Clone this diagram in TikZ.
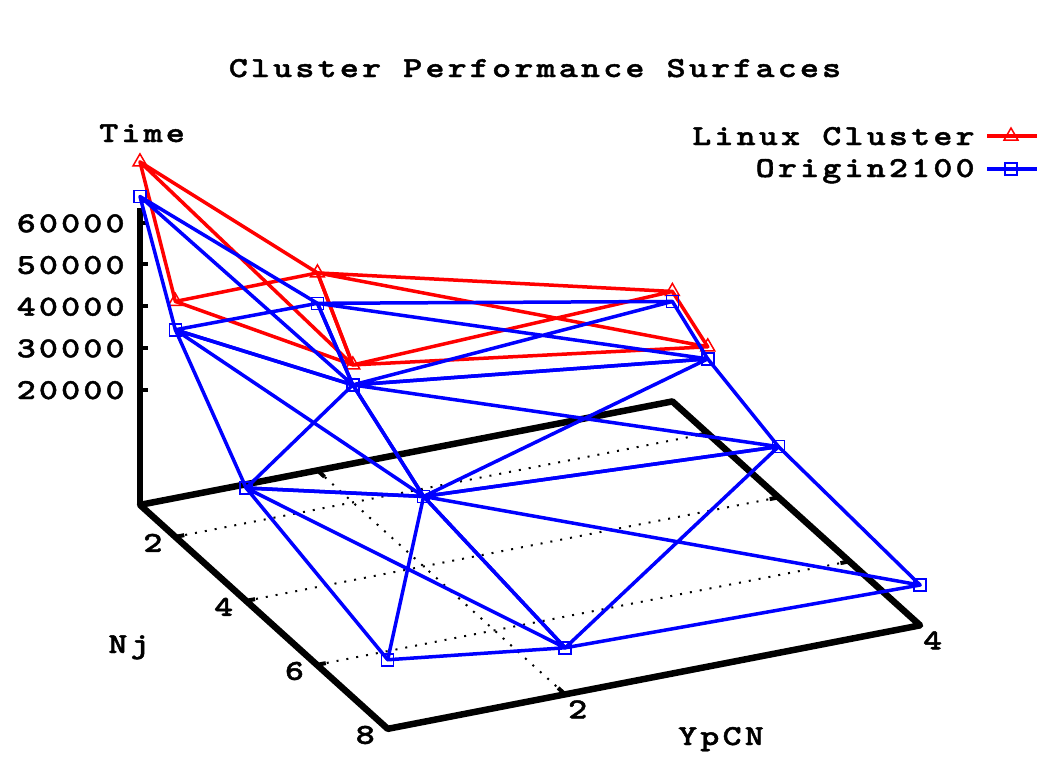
\documentclass[tikz,border=0pt]{standalone}
\usepackage{fontspec}
\usepackage{tikz}
\usetikzlibrary{shapes.geometric}
\newfontfamily\plotfont[LetterSpace=11, FakeStretch=1.25, FakeBold=1.5]{lmmonolt10-bold.otf}

\begin{document}
\begin{tikzpicture}[x=0.02cm, y=-0.02cm,
  txt/.style={font=\plotfont\fontsize{16.5}{18}\selectfont, inner sep=0pt},
  axisline/.style={line width=0.13cm, line join=round},
  tickline/.style={line width=0.08cm},
  gridline/.style={line width=0.04cm, dash pattern=on 0.04cm off 0.16cm},
  redline/.style={red, line width=0.07cm, line join=round},
  blueline/.style={blue, line width=0.07cm, line join=round},
  redmark/.style={draw=red, line width=0.03cm, regular polygon, regular polygon sides=3, minimum size=0.32cm, inner sep=0pt},
  bluemark/.style={draw=blue, line width=0.03cm, rectangle, minimum size=0.24cm, inner sep=0pt}]

\useasboundingbox (0,0) rectangle (1039,771);

% title and legend
\node[txt, anchor=base] (title) at (535,77) {Cluster Performance Surfaces};
\node[txt, anchor=base east] (leg1) at (975,145) {Linux Cluster};
\node[txt, anchor=base east] (leg2) at (975,177) {Origin2100};
\coordinate (l1a) at (987,136);
\coordinate (l1b) at (1037,136);
\coordinate (l2a) at (987,169);
\coordinate (l2b) at (1037,169);
\draw[redline] (l1a) -- (l1b);
\draw[blueline] (l2a) -- (l2b);
\node[redmark] (l1m) at (1011,136) {};
\node[bluemark] (l2m) at (1011,169) {};

% axis titles
\node[txt, anchor=base] (ztitle) at (142,142) {Time};
\node[txt, anchor=base] (xtitle) at (129,653) {Nj};
\node[txt, anchor=base] (ytitle) at (721,745) {YpCN};

\begin{scope}[shift={(-1.458cm,-9.51cm)}, x={(0.708cm,-0.64cm)}, y={(3.55cm,0.69cm)}, z={(0cm,0.0834cm)}]
\def\zb{-7.67}

% base corners
\coordinate (c11) at (1,1,\zb);
\coordinate (c81) at (8,1,\zb);
\coordinate (c84) at (8,4,\zb);
\coordinate (c14) at (1,4,\zb);
\coordinate (ztop) at (1,1,63.5);

% grid
\foreach \n in {2,4,6} {
  \coordinate (gl\n) at (\n,1,\zb);
  \coordinate (gr\n) at (\n,4,\zb);
  \draw[gridline] (gl\n) -- (gr\n);
}
\coordinate (gf2) at (8,2,\zb);
\coordinate (gb2) at (1,2,\zb);
\draw[gridline] (gb2) -- (gf2);

% frame and z axis
\draw[axisline] (c11) -- (c81) -- (c84) -- (c14) -- cycle;
\draw[axisline] (c11) -- (ztop);

% ticks
\foreach \t in {2,...,6} {
  \draw[tickline] (1,1,\t0) -- ++(0.16cm,0cm);
  \node[txt, anchor=base east, xshift=-0.30cm, yshift=-0.19cm] (zl\t) at (1,1,\t0) {\t0000};
}
\foreach \n in {2,4,6} {
  \draw[tickline] (gl\n) -- (\n,1.05,\zb);
  \draw[tickline] (gr\n) -- (\n,3.95,\zb);
}
\draw[tickline] (gf2) -- (7.8,2,\zb);
\draw[tickline] (gb2) -- (1.2,2,\zb);
\foreach \n in {2,4,6,8}
  \node[txt, anchor=base, xshift=-0.45cm, yshift=-0.30cm] (nj\n) at (\n,1,\zb) {\n};
\foreach \y in {2,4}
  \node[txt, anchor=base, xshift=0.25cm, yshift=-0.48cm] (yp\y) at (8,\y,\zb) {\y};

% Linux Cluster
\node[redmark] (r11) at (1,1,74.6) {};
\node[redmark] (r21) at (2,1,48.8) {};
\node[redmark] (r12) at (1,2,39.7) {};
\node[redmark] (r22) at (2,2,25.3) {};
\node[redmark] (r14) at (1,4,18.7) {};
\node[redmark] (r24) at (2,4,13.1) {};
\foreach \ya/\yb in {1/2,2/4}
  \draw[redline] (r1\ya.center) -- (r2\ya.center) -- (r2\yb.center) -- (r1\yb.center) -- cycle
    (r1\ya.center) -- (r2\yb.center) (r2\ya.center) -- (r1\yb.center);

% Origin2100
\node[bluemark] (b11) at (1,1,66.3) {};
\node[bluemark] (b21) at (2,1,42.0) {};
\node[bluemark] (b41) at (4,1,19.4) {};
\node[bluemark] (b81) at (8,1,8.9) {};
\node[bluemark] (b12) at (1,2,32.4) {};
\node[bluemark] (b22) at (2,2,20.5) {};
\node[bluemark] (b42) at (4,2,9.1) {};
\node[bluemark] (b82) at (8,2,3.5) {};
\node[bluemark] (b14) at (1,4,16.3) {};
\node[bluemark] (b24) at (2,4,10.2) {};
\node[bluemark] (b44) at (4,4,4.5) {};
\node[bluemark] (b84) at (8,4,2.0) {};
\foreach \na/\nb in {1/2,2/4,4/8}
  \foreach \ya/\yb in {1/2,2/4}
    \draw[blueline] (b\na\ya.center) -- (b\nb\ya.center) -- (b\nb\yb.center) -- (b\na\yb.center) -- cycle
      (b\na\ya.center) -- (b\nb\yb.center) (b\nb\ya.center) -- (b\na\yb.center);
\end{scope}

\end{tikzpicture}
\end{document}
